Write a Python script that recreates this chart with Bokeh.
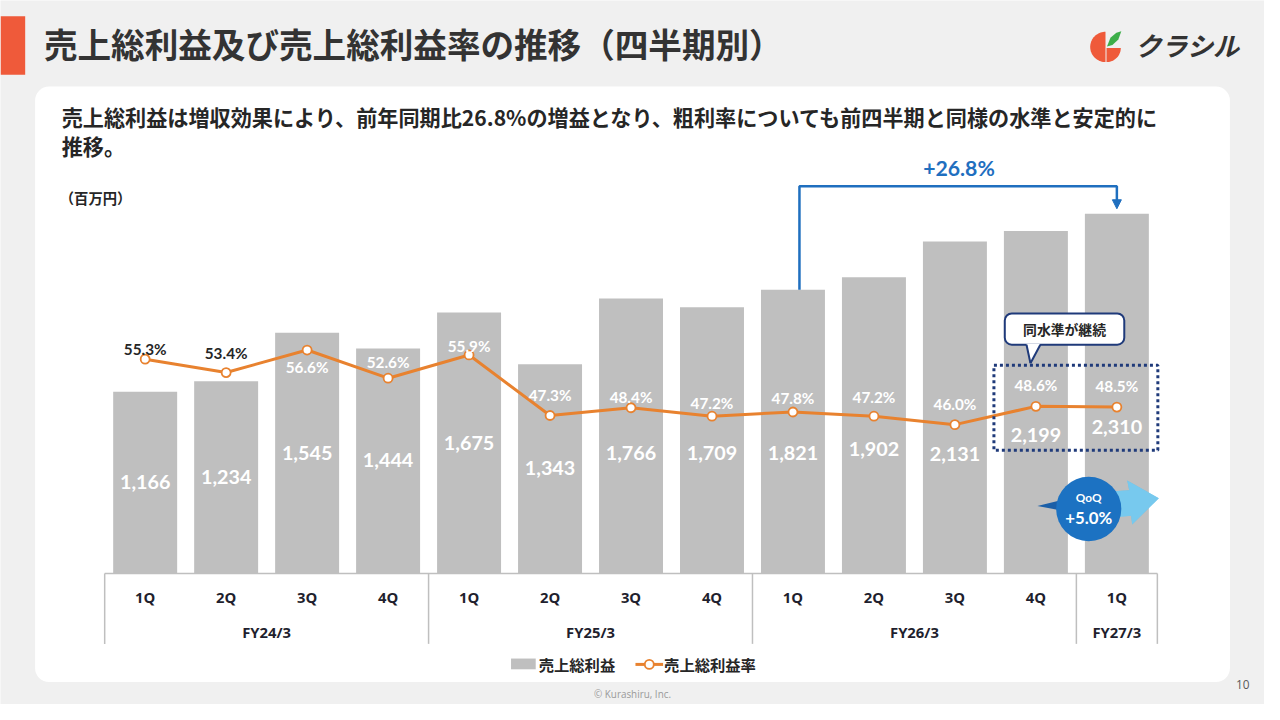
import numpy as np
from bokeh.plotting import figure
from bokeh.models import Range1d, Arrow, NormalHead
from bokeh.core.properties import value
from bokeh.embed import file_html
from bokeh.resources import INLINE

# ---------------- data ----------------
quarters = ["1Q", "2Q", "3Q", "4Q", "1Q", "2Q", "3Q", "4Q", "1Q", "2Q", "3Q", "4Q", "1Q"]
fiscal_years = ["FY24/3"] * 4 + ["FY25/3"] * 4 + ["FY26/3"] * 4 + ["FY27/3"]
gross_profit = [1166, 1234, 1545, 1444, 1675, 1343, 1766, 1709, 1821, 1902, 2131, 2199, 2310]
gross_margin = [55.3, 53.4, 56.6, 52.6, 55.9, 47.3, 48.4, 47.2, 47.8, 47.2, 46.0, 48.6, 48.5]
margin_label_dark = [True, True] + [False] * 11

# label placements (page pixels of the 1280x720 slide, y downwards)
gp_label_y = [492, 487, 463, 470, 453, 478, 463, 463, 463, 459, 464, 444, 436]
gm_label_y = [356, 361, 375, 370, 353, 403, 406, 412, 407, 406, 413, 393, 394]

title = "売上総利益及び売上総利益率の推移（四半期別）"
subtitle1 = "売上総利益は増収効果により、前年同期比26.8%の増益となり、粗利率についても前四半期と同様の水準と安定的に"
subtitle2 = "推移。"
unit_label = "（百万円）"
yoy_label = "+26.8%"
callout_label = "同水準が継続"
qoq_title = "QoQ"
qoq_label = "+5.0%"
legend_bar = "売上総利益"
legend_line = "売上総利益率"

JP = value("Noto Sans CJK JP")
NUM = value("Lato")
SANS = value("Open Sans")

W, H = 1264, 704
PW, PH = 1280.0, 720.0          # slide coordinate system
FSC = W / PW


def fs(n):
    return f"{n * FSC:.2f}px"


# pixel geometry of the plotting region (slide coordinates)
SLOT0, SLOT = 146.5, 82.0          # centre of first bar, spacing
BASE_Y, GP_PX = 586.0, 368.0 / 2310.0
RATE0_Y, RATE_PX = 765.0, 7.2

p = figure(width=W, height=H, output_backend="svg", toolbar_location=None,
           x_range=Range1d(0, PW), y_range=Range1d(PH, 0),
           x_axis_type=None, y_axis_type=None, min_border=0,
           background_fill_color="#F0F0F0", border_fill_color="#F0F0F0",
           outline_line_color=None)
p.grid.visible = False

p.extra_x_ranges = {"q": Range1d((0 - SLOT0) / SLOT, (PW - SLOT0) / SLOT)}
p.extra_y_ranges = {
    "gp": Range1d((BASE_Y - PH) / GP_PX, BASE_Y / GP_PX),
    "rate": Range1d((RATE0_Y - PH) / RATE_PX, RATE0_Y / RATE_PX),
}


def px_to_gp(y):
    return (BASE_Y - y) / GP_PX


# ---------------- page decoration ----------------
p.quad(left=[0], right=[25], top=[16], bottom=[76], fill_color="#EF5A3A", line_color=None)
p.text(x=[44], y=[44], text=[title], text_font=JP, text_font_style="bold",
       text_font_size=fs(34), text_color="#333333", text_baseline="middle")

# logo
t = np.linspace(np.pi / 2, 3 * np.pi / 2, 40)
cx, cy, r = 1119.0, 47.5, 15.5
p.patch(x=list(cx + r * np.cos(t)), y=list(cy - r * np.sin(t)), fill_color="#EF5A3A", line_color=None)
t2 = np.linspace(0, np.pi / 2, 20)
qx = [cx + 1] + list(cx + 1 + 14.5 * np.cos(t2))
qy = [cy + 1] + list(cy + 1 + 14.5 * np.sin(t2))
p.patch(x=qx, y=qy, fill_color="#EF5A3A", line_color=None)
p.patch(x=[1120.5, 1124, 1130, 1135, 1132, 1126],
        y=[47, 38, 33, 31.5, 40, 45.5], fill_color="#3DAE49", line_color=None)
p.text(x=[1149], y=[45], text=["クラシル"], text_font=JP, text_font_style="bold italic",
       text_font_size=fs(26.5), text_color="#333333", text_baseline="middle")

# card
p.quad(left=[35], right=[1245], top=[88], bottom=[697], fill_color="white",
       line_color=None, border_radius=14)

p.text(x=[62, 62], y=[119, 148], text=[subtitle1, subtitle2], text_font=JP,
       text_font_style="bold", text_font_size=fs(21.4), text_color="#262626",
       text_baseline="middle")
p.text(x=[60], y=[201], text=[unit_label], text_font=JP, text_font_style="bold",
       text_font_size=fs(14.5), text_color="#262626", text_baseline="middle")

# ---------------- chart ----------------
idx = list(range(len(gross_profit)))
p.vbar(x=idx, top=gross_profit, bottom=0, width=0.79, fill_color="#BFBFBF",
       line_color=None, x_range_name="q", y_range_name="gp")

p.text(x=idx, y=gp_label_y, text=[f"{v:,}" for v in gross_profit], x_range_name="q",
       text_font=NUM, text_font_style="bold", text_font_size=fs(20), text_color="white",
       text_align="center", text_baseline="middle")

p.line(x=idx, y=gross_margin, line_color="#E8822F", line_width=3,
       x_range_name="q", y_range_name="rate")
p.scatter(x=idx, y=gross_margin, size=9, fill_color="white", line_color="#E8822F",
          line_width=1.8, x_range_name="q", y_range_name="rate")
p.text(x=idx, y=gm_label_y, text=[f"{v:.1f}%" for v in gross_margin], x_range_name="q",
       text_font=NUM, text_font_style="bold", text_font_size=fs(15.5),
       text_color=["#262626" if d else "white" for d in margin_label_dark],
       text_align="center", text_baseline="middle")

# category axis (table style)
groups = []
for i, fy in enumerate(fiscal_years):
    if not groups or groups[-1][0] != fy:
        groups.append([fy, i, i])
    else:
        groups[-1][2] = i
n = len(idx)
p.segment(x0=[-0.5], x1=[n - 0.5], y0=[586], y1=[586], line_color="#BFBFBF",
          line_width=1.5, x_range_name="q")
seps = [g[1] - 0.5 for g in groups] + [n - 0.5]
p.segment(x0=seps, x1=seps, y0=[586] * len(seps), y1=[658] * len(seps),
          line_color="#BFBFBF", line_width=1.5, x_range_name="q")
p.text(x=idx, y=[610] * n, text=quarters, x_range_name="q", text_font=SANS,
       text_font_style="bold", text_font_size=fs(15), text_color="#1F1F2E",
       text_align="center", text_baseline="middle")
p.text(x=[(g[1] + g[2]) / 2 for g in groups], y=[646] * len(groups), text=[g[0] for g in groups],
       x_range_name="q", text_font=SANS, text_font_style="bold",
       text_font_size=fs(15), text_color="#1F1F2E", text_align="center", text_baseline="middle")

# YoY bracket
BLUE = "#1F6FBF"
i_from, i_to = 8, 12
top_gp = px_to_gp(190)
p.line(x=[i_from + 0.08, i_from + 0.08, i_to, i_to],
       y=[gross_profit[i_from], top_gp, top_gp, px_to_gp(206)],
       line_color=BLUE, line_width=2.5, x_range_name="q", y_range_name="gp")
p.add_layout(Arrow(end=NormalHead(size=9, fill_color=BLUE, line_color=BLUE),
                   x_start=i_to, y_start=px_to_gp(204), x_end=i_to, y_end=px_to_gp(213),
                   line_color=BLUE, line_width=2.5, x_range_name="q", y_range_name="gp"))
p.text(x=[(i_from + i_to) / 2 + 0.05], y=[171], text=[yoy_label], x_range_name="q",
       text_font=NUM, text_font_style="bold", text_font_size=fs(21.5), text_color=BLUE,
       text_align="center", text_baseline="middle")

# callout + dotted box
NAVY = "#1F3A7A"
p.quad(left=[1006], right=[1172], top=[373], bottom=[460], fill_color=None,
       line_color=NAVY, line_width=3, line_dash="3 3")
p.quad(left=[1017], right=[1138], top=[320], bottom=[352], fill_color="white",
       line_color=NAVY, line_width=2, border_radius=7)
p.patch(x=[1039, 1053, 1043], y=[351, 351, 371], fill_color="white", line_color=None)
p.segment(x0=[1039, 1053], y0=[352, 352], x1=[1043, 1043], y1=[371, 371],
          line_color=NAVY, line_width=2)
p.text(x=[1077.5], y=[336], text=[callout_label], text_font=JP, text_font_style="bold",
       text_font_size=fs(14), text_color="#262626", text_align="center", text_baseline="middle")

# QoQ badge
p.patch(x=[1098, 1143, 1141, 1173, 1146, 1145, 1098],
        y=[504, 501, 491, 509, 536, 527, 531], fill_color="#55B9E8", line_color=None)
p.patch(x=[1128, 1143, 1141, 1173, 1146, 1145, 1128],
        y=[502, 501, 491, 509, 536, 527, 529], fill_color="#8DD3F2", line_color=None, fill_alpha=0.6)
p.patch(x=[1050, 1082, 1082], y=[517, 509, 523], fill_color="#1B5FA8", line_color=None)
p.ellipse(x=[1102], y=[520], width=66, height=66, fill_color="#1C72C2", line_color=None)
p.text(x=[1102, 1102], y=[508, 529], text=[qoq_title, qoq_label], text_font=NUM,
       text_font_style="bold", text_font_size=[fs(12), fs(17)], text_color="white",
       text_align="center", text_baseline="middle")

# legend
p.quad(left=[517], right=[542], top=[673], bottom=[684], fill_color="#BFBFBF", line_color=None)
p.text(x=[545], y=[679], text=[legend_bar], text_font=JP, text_font_style="bold",
       text_font_size=fs(15.5), text_color="#262626", text_baseline="middle")
p.line(x=[643, 671], y=[679, 679], line_color="#E8822F", line_width=3)
p.scatter(x=[657], y=[679], size=9, fill_color="white", line_color="#E8822F", line_width=1.8)
p.text(x=[672], y=[679], text=[legend_line], text_font=JP, text_font_style="bold",
       text_font_size=fs(15.5), text_color="#262626", text_baseline="middle")

# footer
p.text(x=[640], y=[709], text=["© Kurashiru, Inc."], text_font=SANS,
       text_font_size=fs(10), text_color="#9A9A9A", text_align="center", text_baseline="middle")
p.text(x=[1258], y=[700], text=["10"], text_font=SANS,
       text_font_size=fs(12), text_color="#595959", text_align="center", text_baseline="middle")

open("out.html", "w").write(file_html(p, INLINE))
